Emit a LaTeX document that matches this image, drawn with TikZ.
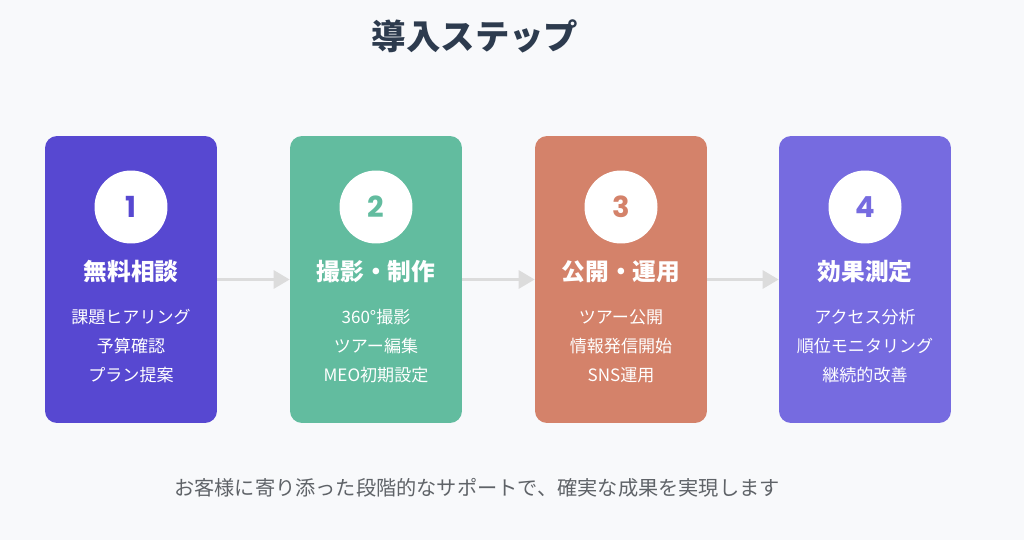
\documentclass[tikz,border=0pt]{standalone}
\usepackage{fontspec}
\setmainfont{Noto Sans CJK JP}
\newfontfamily\numfont{Poppins}
\usetikzlibrary{arrows.meta,positioning}
\definecolor{bgcol}{HTML}{F8F9FB}
\definecolor{titlecol}{HTML}{2D3B4E}
\definecolor{notecol}{HTML}{5F6368}
\definecolor{arrowcol}{HTML}{DCDCDC}
\definecolor{c1}{HTML}{5748D1}
\definecolor{c2}{HTML}{62BC9F}
\definecolor{c3}{HTML}{D4826A}
\definecolor{c4}{HTML}{766BE0}

\begin{document}
\begin{tikzpicture}[x=0.02cm,y=-0.02cm,
	stepbox/.style={fill=#1,rounded corners=0.24cm,
		minimum width=3.44cm,minimum height=5.74cm,inner sep=0},
	numdisc/.style={circle,fill=white,minimum size=1.46cm,inner sep=0,
		text=#1,font=\numfont\bfseries\fontsize{16.5pt}{16.5pt}\selectfont},
	headtext/.style={text=white,font=\bfseries\fontsize{13.5pt}{15pt}\selectfont},
	listtext/.style={text=white,align=center,
		font=\fontsize{9.7pt}{16.4pt}\selectfont},
	steparrow/.style={draw=arrowcol,line width=0.06cm,
		-{Triangle[length=0.32cm,width=0.36cm]}},
	]
	\fill[bgcol] (0,0) rectangle (1024,540);
	\useasboundingbox (0,0) rectangle (1024,540);
	
	\node[text=titlecol,font=\bfseries\fontsize{19.6pt}{22pt}\selectfont] (title) at (475,36) {導入ステップ};
	
	\foreach \i/\xc/\col/\head/\items in {%
		1/131/c1/無料相談/{課題ヒアリング\\予算確認\\プラン提案},
		2/376/c2/撮影・制作/{360°撮影\\ツアー編集\\MEO初期設定},
		3/621/c3/公開・運用/{ツアー公開\\情報発信開始\\SNS運用},
		4/865/c4/効果測定/{アクセス分析\\順位モニタリング\\継続的改善}}{%
		\node[stepbox=\col] (box\i) at (\xc,279.5) {};
		\node[numdisc=\col] (num\i) at (\xc,207) {\i};
		\node[headtext] (head\i) at (\xc,272) {\head};
		\node[listtext] (list\i) at (\xc,346) {\items};
	}
	
	\foreach \i [count=\j from 2] in {1,2,3}
		\draw[steparrow] (box\i.east) -- (box\j.west);
	
	\node[text=notecol,font=\fontsize{11.5pt}{13pt}\selectfont] (note) at (477,488)
		{お客様に寄り添った段階的なサポートで、確実な成果を実現します};
\end{tikzpicture}
\end{document}
